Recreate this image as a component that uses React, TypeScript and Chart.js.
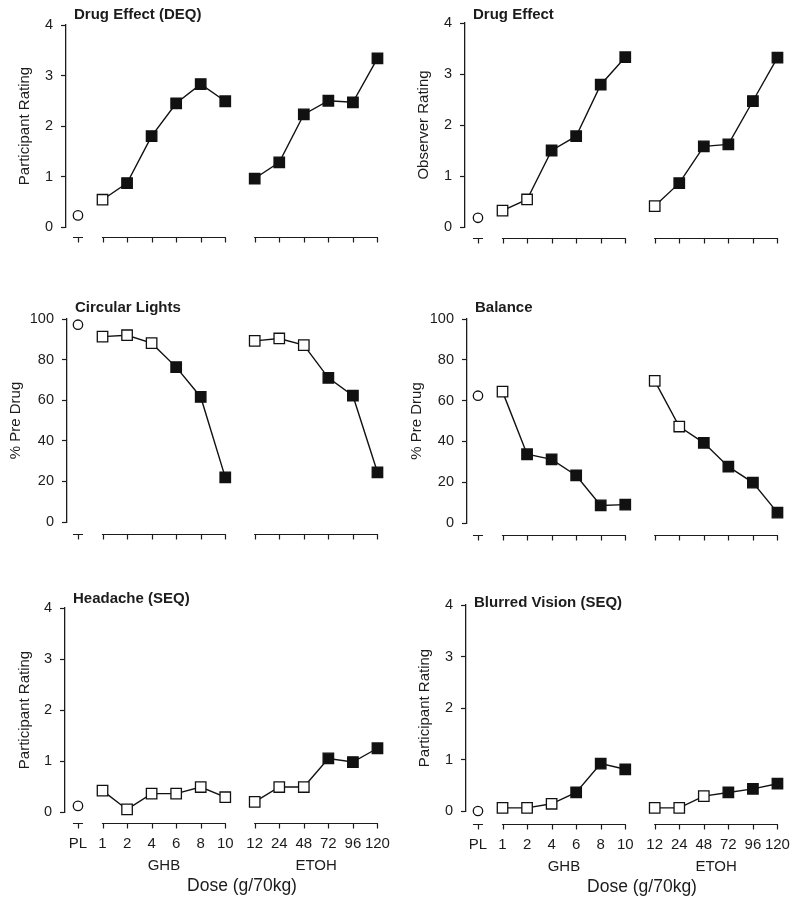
import React, { useEffect, useRef } from 'react';
import { Chart, registerables } from 'chart.js';

Chart.register(...registerables);

// ---------- labels ----------
const PL_LABEL = 'PL';
const GHB_LABEL = 'GHB';
const ETOH_LABEL = 'ETOH';
const GHB_DOSES = ['1', '2', '4', '6', '8', '10'];
const ETOH_DOSES = ['12', '24', '48', '72', '96', '120'];
const X_TITLE = 'Dose (g/70kg)';

// ---------- data (placebo, GHB doses, ETOH doses; *Sig = filled symbol) ----------
const deqPL = 0.23;
const deqGHB = [0.54, 0.87, 1.8, 2.45, 2.83, 2.49];
const deqGHBSig = [false, true, true, true, true, true];
const deqETOH = [0.96, 1.28, 2.23, 2.5, 2.47, 3.34];
const deqETOHSig = [true, true, true, true, true, true];

const obsPL = 0.18;
const obsGHB = [0.32, 0.54, 1.5, 1.78, 2.79, 3.33];
const obsGHBSig = [false, false, true, true, true, true];
const obsETOH = [0.41, 0.86, 1.58, 1.62, 2.47, 3.32];
const obsETOHSig = [false, true, true, true, true, true];

const circPL = 97.2;
const circGHB = [91.3, 92.0, 88.1, 76.3, 61.6, 22.0];
const circGHBSig = [false, false, false, true, true, true];
const circETOH = [89.2, 90.4, 87.1, 71.0, 62.2, 24.5];
const circETOHSig = [false, false, false, true, true, true];

const balPL = 62.4;
const balGHB = [64.4, 33.7, 31.2, 23.3, 8.6, 9.0];
const balGHBSig = [false, true, true, true, true, true];
const balETOH = [69.7, 47.3, 39.3, 27.6, 19.8, 5.1];
const balETOHSig = [false, false, true, true, true, true];

const headPL = 0.12;
const headGHB = [0.42, 0.05, 0.36, 0.36, 0.49, 0.29];
const headGHBSig = [false, false, false, false, false, false];
const headETOH = [0.2, 0.49, 0.49, 1.05, 0.98, 1.25];
const headETOHSig = [false, false, false, true, true, true];

const blurPL = 0.0;
const blurGHB = [0.06, 0.06, 0.14, 0.36, 0.92, 0.81];
const blurGHBSig = [false, false, false, true, true, true];
const blurETOH = [0.06, 0.06, 0.29, 0.36, 0.43, 0.53];
const blurETOHSig = [false, false, false, true, true, true];

// ---------- layout / style ----------
const FONT = "'Liberation Sans', Arial, Helvetica, sans-serif";
const INK = '#1c1c1c';
const UNIT = 24.6; // px per dose slot
const PL_PX = 78; // pixel of placebo symbol inside a panel
const ETOH_START = 7.2; // slot of first ETOH dose
const PANEL_W = 400;
const RIGHT_PAD = 8;

type PanelCfg = {
  title: string;
  yTitle: string;
  yMax: number;
  yStep: number;
  pl: number;
  ghb: number[];
  ghbSig: boolean[];
  etoh: number[];
  etohSig: boolean[];
  showX: boolean;
  left: number;
  top: number;
  h: number;
  yAxisX: number;
  areaTop: number;
  areaBottom: number;
  axisGap: number;
  titleDy: number;
  yTitleCenter: number;
};

const PANELS: PanelCfg[] = [
  { title: 'Drug Effect (DEQ)', yTitle: 'Participant Rating', yMax: 4, yStep: 1, pl: deqPL, ghb: deqGHB, ghbSig: deqGHBSig, etoh: deqETOH, etohSig: deqETOHSig, showX: false,
    left: 0, top: 0, h: 290, yAxisX: 66, areaTop: 25, areaBottom: 227, axisGap: 10, titleDy: -10, yTitleCenter: 25 },
  { title: 'Drug Effect', yTitle: 'Observer Rating', yMax: 4, yStep: 1, pl: obsPL, ghb: obsGHB, ghbSig: obsGHBSig, etoh: obsETOH, etohSig: obsETOHSig, showX: false,
    left: 400, top: 0, h: 290, yAxisX: 65, areaTop: 23, areaBottom: 227, axisGap: 11, titleDy: -8, yTitleCenter: 24 },
  { title: 'Circular Lights', yTitle: '% Pre Drug', yMax: 100, yStep: 20, pl: circPL, ghb: circGHB, ghbSig: circGHBSig, etoh: circETOH, etohSig: circETOHSig, showX: false,
    left: 0, top: 290, h: 290, yAxisX: 67, areaTop: 29, areaBottom: 232, axisGap: 12, titleDy: -11, yTitleCenter: 16 },
  { title: 'Balance', yTitle: '% Pre Drug', yMax: 100, yStep: 20, pl: balPL, ghb: balGHB, ghbSig: balGHBSig, etoh: balETOH, etohSig: balETOHSig, showX: false,
    left: 400, top: 290, h: 290, yAxisX: 67, areaTop: 29, areaBottom: 233, axisGap: 12, titleDy: -11, yTitleCenter: 17 },
  { title: 'Headache (SEQ)', yTitle: 'Participant Rating', yMax: 4, yStep: 1, pl: headPL, ghb: headGHB, ghbSig: headGHBSig, etoh: headETOH, etohSig: headETOHSig, showX: true,
    left: 0, top: 580, h: 326, yAxisX: 65, areaTop: 28, areaBottom: 232, axisGap: 11, titleDy: -9, yTitleCenter: 25 },
  { title: 'Blurred Vision (SEQ)', yTitle: 'Participant Rating', yMax: 4, yStep: 1, pl: blurPL, ghb: blurGHB, ghbSig: blurGHBSig, etoh: blurETOH, etohSig: blurETOHSig, showX: true,
    left: 400, top: 580, h: 326, yAxisX: 66, areaTop: 25, areaBottom: 231, axisGap: 13, titleDy: -2, yTitleCenter: 25 },
];

const slotsFrom = (start: number, n: number) => Array.from({ length: n }, (_, i) => start + i);

function Panel({ cfg }: { cfg: PanelCfg }) {
  const ref = useRef<HTMLCanvasElement>(null);

  useEffect(() => {
    if (!ref.current) return;
    const xMin = -(PL_PX - cfg.yAxisX) / UNIT;
    const xMax = xMin + (PANEL_W - RIGHT_PAD - cfg.yAxisX) / UNIT;
    const ghbX = slotsFrom(1, cfg.ghb.length);
    const etohX = slotsFrom(ETOH_START, cfg.etoh.length);

    const segAxes = {
      id: 'segAxes',
      afterDraw(chart: any) {
        const { ctx, chartArea } = chart;
        const x = chart.scales.x;
        const ay = Math.round(chartArea.bottom + cfg.axisGap) + 0.5;
        ctx.save();
        ctx.strokeStyle = INK;
        ctx.lineWidth = 1.2;
        const seg = (a: number, b: number, ticks: number[], ext: number) => {
          ctx.beginPath();
          ctx.moveTo(x.getPixelForValue(a) - ext, ay);
          ctx.lineTo(x.getPixelForValue(b) + ext, ay);
          ticks.forEach((t) => {
            const px = Math.round(x.getPixelForValue(t)) + 0.5;
            ctx.moveTo(px, ay);
            ctx.lineTo(px, ay + 5);
          });
          ctx.stroke();
        };
        seg(0, 0, [0], 5);
        seg(ghbX[0], ghbX[ghbX.length - 1], ghbX, 0.6);
        seg(etohX[0], etohX[etohX.length - 1], etohX, 0.6);

        ctx.fillStyle = INK;
        if (cfg.showX) {
          ctx.font = `15px ${FONT}`;
          ctx.textAlign = 'center';
          ctx.textBaseline = 'middle';
          ctx.fillText(PL_LABEL, x.getPixelForValue(0), ay + 20);
          GHB_DOSES.forEach((l, i) => ctx.fillText(l, x.getPixelForValue(ghbX[i]), ay + 20));
          ETOH_DOSES.forEach((l, i) => ctx.fillText(l, x.getPixelForValue(etohX[i]), ay + 20));
          const gC = (x.getPixelForValue(ghbX[0]) + x.getPixelForValue(ghbX[ghbX.length - 1])) / 2;
          const eC = (x.getPixelForValue(etohX[0]) + x.getPixelForValue(etohX[etohX.length - 1])) / 2;
          ctx.fillText(GHB_LABEL, gC, ay + 42);
          ctx.fillText(ETOH_LABEL, eC, ay + 42);
          ctx.font = `17.5px ${FONT}`;
          ctx.fillText(X_TITLE, (gC + eC) / 2 + 2, ay + 63);
        }
        ctx.font = `bold 15px ${FONT}`;
        ctx.textAlign = 'left';
        ctx.textBaseline = 'middle';
        ctx.fillText(cfg.title, chartArea.left + 8, chartArea.top + cfg.titleDy);
        ctx.restore();
      },
    };

    const symbolColors = (sig: boolean[]) => sig.map((s) => (s ? '#111' : '#fff'));

    const seriesStyle = {
      borderColor: '#111',
      borderWidth: 1.4,
      tension: 0,
      pointStyle: 'rect',
      pointRadius: 7.4,
      pointBorderColor: '#111',
      pointBorderWidth: 1.3,
      clip: false as any,
    };

    const chart = new Chart(ref.current, {
      type: 'line',
      data: {
        datasets: [
          {
            label: PL_LABEL,
            data: [{ x: 0, y: cfg.pl }],
            showLine: false,
            pointStyle: 'circle',
            pointRadius: 4.7,
            pointBackgroundColor: '#fff',
            pointBorderColor: '#111',
            pointBorderWidth: 1.3,
            clip: false as any,
          },
          {
            label: GHB_LABEL,
            data: cfg.ghb.map((y, i) => ({ x: ghbX[i], y })),
            pointBackgroundColor: symbolColors(cfg.ghbSig),
            ...seriesStyle,
          },
          {
            label: ETOH_LABEL,
            data: cfg.etoh.map((y, i) => ({ x: etohX[i], y })),
            pointBackgroundColor: symbolColors(cfg.etohSig),
            ...seriesStyle,
          },
        ],
      },
      options: {
        responsive: false,
        animation: false,
        events: [],
        layout: {
          padding: {
            left: 0,
            right: RIGHT_PAD,
            top: cfg.areaTop,
            bottom: cfg.h - cfg.areaBottom,
          },
        },
        plugins: {
          legend: { display: false },
          title: { display: false },
          tooltip: { enabled: false },
        },
        scales: {
          x: { type: 'linear', min: xMin, max: xMax, display: false },
          y: {
            type: 'linear',
            min: 0,
            max: cfg.yMax,
            ticks: {
              stepSize: cfg.yStep,
              padding: 8,
              color: INK,
              font: { family: FONT, size: 14.5 },
            },
            grid: {
              drawOnChartArea: false,
              drawTicks: true,
              tickLength: 5,
              tickColor: INK,
              tickWidth: 1.2,
              color: INK,
            },
            border: { display: true, color: INK, width: 1.3 },
            title: {
              display: true,
              text: cfg.yTitle,
              color: INK,
              font: { family: FONT, size: 15 },
              padding: { top: cfg.yTitleCenter - 9, bottom: 0 },
            },
            afterFit: (s: any) => {
              s.width = cfg.yAxisX;
            },
          },
        },
      },
      plugins: [segAxes],
    } as any);

    return () => chart.destroy();
  }, [cfg]);

  return (
    <canvas
      ref={ref}
      width={PANEL_W}
      height={cfg.h}
      style={{ position: 'absolute', left: cfg.left, top: cfg.top, width: PANEL_W, height: cfg.h }}
    />
  );
}

export default function App() {
  return (
    <div style={{ position: 'absolute', left: 0, top: 0, width: 800, height: 906, background: '#fff' }}>
      {PANELS.map((p, i) => (
        <Panel key={i} cfg={p} />
      ))}
    </div>
  );
}
